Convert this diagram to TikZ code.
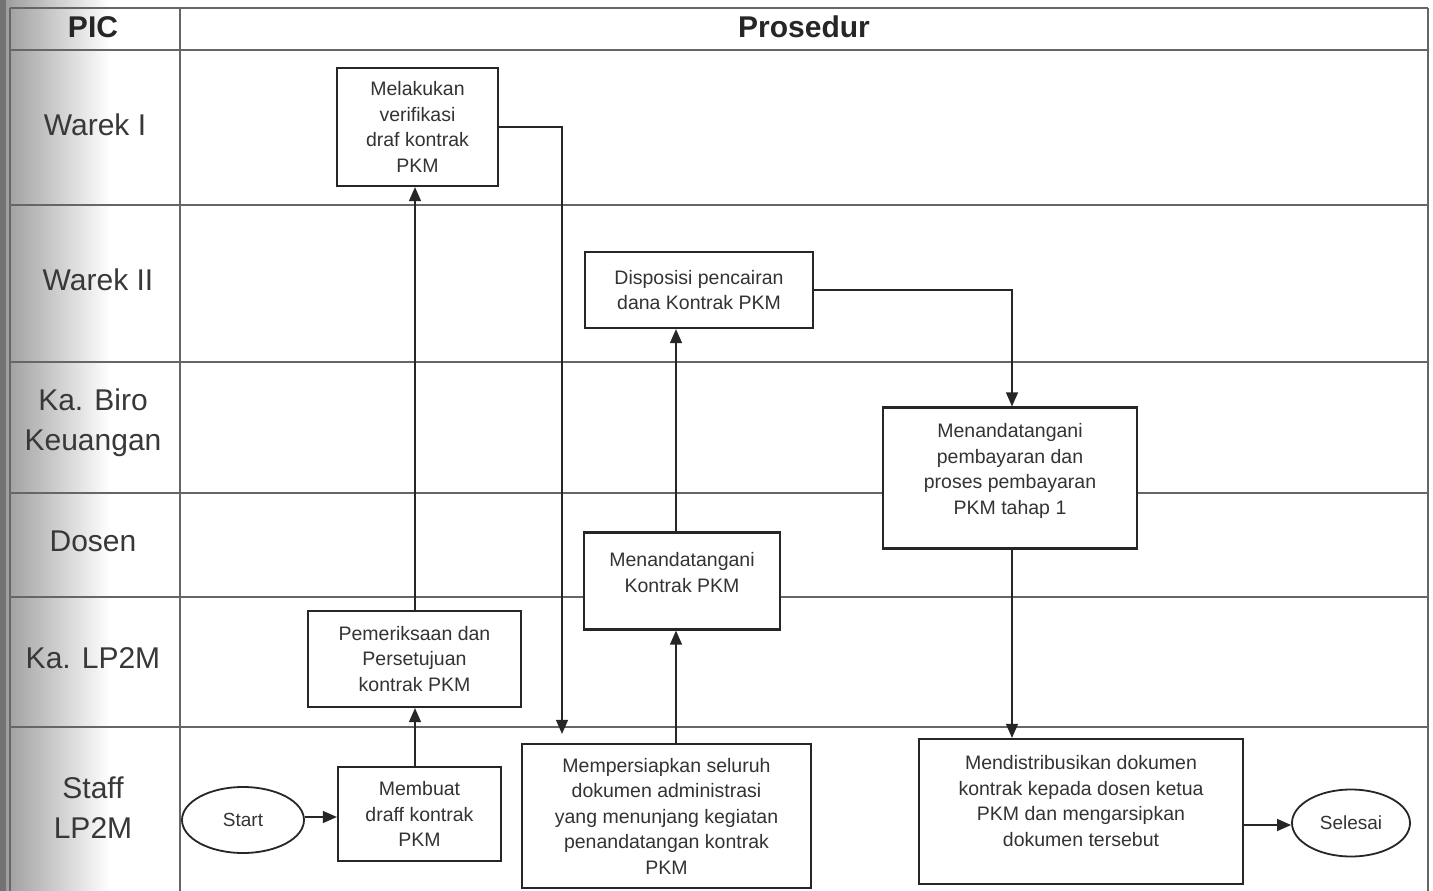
\documentclass[tikz,border=0pt]{standalone}
\usepackage{fontspec}
\setmainfont{Liberation Sans}
\usetikzlibrary{shapes.geometric,arrows.meta}
\tikzset{
  lane/.style={draw=black!60, line width=1.3pt},
  proc/.style={rectangle, draw=black!85, line width=2.2pt, fill=white, align=center, inner sep=0pt, font=\fontsize{19.5}{25.5}\selectfont, text=black!80},
  term/.style={ellipse, draw=black!85, line width=1.8pt, fill=white, inner sep=0pt, font=\fontsize{19}{24}\selectfont, text=black!80},
  arr/.style={draw=black!85, line width=1.3pt, -{Triangle[length=14pt,width=12pt]}},
  lanelbl/.style={font=\fontsize{30}{40}\selectfont, text=black!78, align=center},
  hdr/.style={font=\fontsize{30}{36}\selectfont\bfseries, text=black!85}
}
\begin{document}
\begin{tikzpicture}[x=1pt,y=-1pt]
\useasboundingbox (0,0) rectangle (1433,891);
\fill[white] (0,0) rectangle (1433,891);
% scan shading on the left
\shade[left color=black!40, right color=white] (0,0) rectangle (110,891);
\fill[black!55] (0,0) rectangle (6,891);
% table grid
\draw[lane] (10,8) -- (1428,8);
\draw[lane] (10,50) -- (1428,50);
\draw[lane] (10,205) -- (1428,205);
\draw[lane] (10,362) -- (1428,362);
\draw[lane] (10,493) -- (1428,493);
\draw[lane] (10,597) -- (1428,597);
\draw[lane] (10,727) -- (1428,727);
\draw[lane] (10,8) -- (10,891);
\draw[lane] (180,8) -- (180,891);
\draw[lane] (1428,8) -- (1428,891);
% headers and lane labels
\node[hdr] (hpic) at (93,27) {PIC};
\node[hdr] (hpro) at (804,27) {Prosedur};
\node[lanelbl] (l1) at (95,125) {Warek I};
\node[lanelbl] (l2) at (98,280) {Warek II};
\node[lanelbl] (l3) at (93,423) {Ka. Biro\\Keuangan};
\node[lanelbl] (l4) at (93,541) {Dosen};
\node[lanelbl] (l5) at (93,658) {Ka. LP2M};
\node[lanelbl] (l6) at (93,808) {Staff\\LP2M};
% process boxes
\node[proc, minimum width=161pt, minimum height=118pt] (m1) at (417.5,127) {Melakukan\\verifikasi\\draf kontrak\\PKM};
\node[proc, minimum width=228pt, minimum height=76pt] (m2) at (699,290) {Disposisi pencairan\\dana Kontrak PKM};
\node[proc, minimum width=254pt, minimum height=141pt] (m3) at (1010,478) {Menandatangani\\pembayaran dan\\proses pembayaran\\PKM tahap 1\\[-7.5pt]};
\node[proc, minimum width=196pt, minimum height=97pt] (m4) at (682,581) {Menandatangani\\Kontrak PKM\\[-8pt]};
\node[proc, minimum width=213pt, minimum height=96pt] (m5) at (414.5,659) {Pemeriksaan dan\\Persetujuan\\kontrak PKM};
\node[proc, minimum width=163pt, minimum height=94pt] (m6) at (419.5,814) {Membuat\\draff kontrak\\PKM};
\node[proc, minimum width=289pt, minimum height=144pt] (m7) at (666.5,816) {Mempersiapkan seluruh\\dokumen administrasi\\yang menunjang kegiatan\\penandatangan kontrak\\PKM};
\node[proc, minimum width=324pt, minimum height=145pt] (m8) at (1081,811.5) {Mendistribusikan dokumen\\kontrak kepada dosen ketua\\PKM dan mengarsipkan\\dokumen tersebut\\[-4pt]};
\node[term, minimum width=122pt, minimum height=66pt] (start) at (243,820) {Start};
\node[term, minimum width=118pt, minimum height=67pt] (sel) at (1351,823) {Selesai};
% column coordinates
\coordinate (cA) at (415,0);
\coordinate (cB) at (562,0);
\coordinate (cC) at (676,0);
\coordinate (cD) at (1012,0);
\coordinate (rE) at (0,825);
\coordinate (rS) at (0,817);
% connectors
\draw[arr] (start.east |- rS) -- (m6.west |- rS);
\draw[arr] (m6.north -| cA) -- (m5.south -| cA);
\draw[arr] (m5.north -| cA) -- (m1.south -| cA);
\draw[arr, shorten >=9pt] (m1.east) -| (m7.north -| cB);
\draw[arr] (m7.north -| cC) -- (m4.south -| cC);
\draw[arr] (m4.north -| cC) -- (m2.south -| cC);
\draw[arr] (m2.east) -| (m3.north -| cD);
\draw[arr] (m3.south -| cD) -- (m8.north -| cD);
\draw[arr] (m8.east |- rE) -- (sel.west |- rE);
\end{tikzpicture}
\end{document}
